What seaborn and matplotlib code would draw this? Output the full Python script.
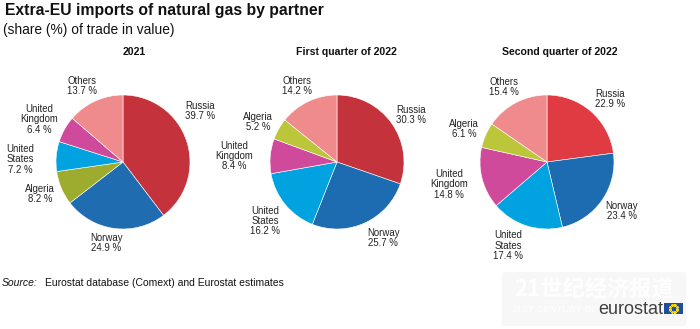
import numpy as np
import pandas as pd
import matplotlib
matplotlib.use("Agg")
import matplotlib.pyplot as plt
from matplotlib.patches import FancyBboxPatch, Rectangle
import seaborn as sns

# ---- data -------------------------------------------------------------
periods = ["2021", "First quarter of 2022", "Second quarter of 2022"]

partners_2021 = ["Russia", "Norway", "Algeria", "United\nStates", "United\nKingdom", "Others"]
shares_2021 = [39.7, 24.9, 8.2, 7.2, 6.4, 13.7]

partners_q1 = ["Russia", "Norway", "United\nStates", "United\nKingdom", "Algeria", "Others"]
shares_q1 = [30.3, 25.7, 16.2, 8.4, 5.2, 14.2]

partners_q2 = ["Russia", "Norway", "United\nStates", "United\nKingdom", "Algeria", "Others"]
shares_q2 = [22.9, 23.4, 17.4, 14.8, 6.1, 15.4]

# ---- styling ----------------------------------------------------------
sns.set_theme(style="white")
plt.rcParams["font.family"] = ["Liberation Sans", "DejaVu Sans"]

colors_2021 = {"Russia": "#c4333c", "Norway": "#1f6cb1", "Algeria": "#9dac2e",
               "United\nStates": "#00a3e0", "United\nKingdom": "#d04a9c", "Others": "#ef8b8c"}
colors_q1 = {"Russia": "#c4333c", "Norway": "#1d6bb0", "Algeria": "#bcc63a",
             "United\nStates": "#00a3e0", "United\nKingdom": "#d04a9c", "Others": "#ef8b8c"}
colors_q2 = {"Russia": "#e03a43", "Norway": "#1d6bb0", "Algeria": "#bcc63a",
             "United\nStates": "#00a3e0", "United\nKingdom": "#d04a9c", "Others": "#ef8b8c"}

# label placement, in units of the pie radius, relative to the pie centre
label_pos_2021 = {"Russia": (1.15, 0.76), "Norway": (-0.25, -1.21), "Algeria": (-1.24, -0.48),
                  "United\nStates": (-1.54, 0.04), "United\nKingdom": (-1.25, 0.64),
                  "Others": (-0.61, 1.13)}
label_pos_q1 = {"Russia": (1.10, 0.70), "Norway": (0.69, -1.13), "United\nStates": (-1.07, -0.88),
                "United\nKingdom": (-1.54, 0.09), "Algeria": (-1.18, 0.60), "Others": (-0.60, 1.13)}
label_pos_q2 = {"Russia": (0.94, 0.94), "Norway": (1.12, -0.73), "United\nStates": (-0.58, -1.25),
                "United\nKingdom": (-1.46, -0.33), "Algeria": (-1.24, 0.49), "Others": (-0.64, 1.12)}

W, H = 700, 329
fig = plt.figure(figsize=(W / 100, H / 100), dpi=100)
fig.patch.set_facecolor("white")

R = 67          # pie radius in pixels
centres = [(123, 162), (337, 162), (547, 162)]
title_x = [134, 346, 560]
AW, AH = 230, 250  # axes box in pixels

frames = [
    pd.DataFrame({"partner": partners_2021, "share": shares_2021}),
    pd.DataFrame({"partner": partners_q1, "share": shares_q1}),
    pd.DataFrame({"partner": partners_q2, "share": shares_q2}),
]
palettes = [colors_2021, colors_q1, colors_q2]
label_layouts = [label_pos_2021, label_pos_q1, label_pos_q2]

for (cx, cy), tx, df, pal, lay, title in zip(centres, title_x, frames, palettes,
                                             label_layouts, periods):
    ax = fig.add_axes([(cx - AW / 2) / W, 1 - (cy + AH / 2) / H, AW / W, AH / H])
    ax.pie(df["share"], colors=[pal[p] for p in df["partner"]], startangle=90,
           counterclock=False, radius=1.0,
           wedgeprops=dict(edgecolor="white", linewidth=0.4))
    ax.set_xlim(-AW / 2 / R, AW / 2 / R)
    ax.set_ylim(-AH / 2 / R, AH / 2 / R)
    ax.set_aspect("equal")
    ax.axis("off")
    for p, v in zip(df["partner"], df["share"]):
        lx, ly = lay[p]
        ax.text(lx, ly, f"{p}\n{v:.1f} %", ha="center", va="center",
                fontsize=6.9, color="#222222", linespacing=1.05)
    fig.text(tx / W, 1 - 52 / H, title, ha="center", va="center",
             fontsize=7.6, fontweight="bold", color="#111111")

# ---- headings and footer ---------------------------------------------
fig.text(5 / W, 1 - 11 / H, "Extra-EU imports of natural gas by partner",
         ha="left", va="center", fontsize=11.3, fontweight="bold", color="#111111")
fig.text(3 / W, 1 - 30 / H, "(share (%) of trade in value)",
         ha="left", va="center", fontsize=9.9, color="#111111")

fig.text(2 / W, 1 - 283 / H, "Source:", ha="left", va="center",
         fontsize=7.5, style="italic", color="#111111")
fig.text(45 / W, 1 - 283 / H, "Eurostat database (Comext) and Eurostat estimates",
         ha="left", va="center", fontsize=7.5, color="#111111")

# faint newspaper watermark
wm = FancyBboxPatch((506 / W, 1 - 324 / H), 176 / W, 50 / H,
                    boxstyle="round,pad=0.006", transform=fig.transFigure,
                    facecolor="#e9e9e9", edgecolor="none", alpha=0.35, zorder=1)
fig.patches.append(wm)
fig.text(594 / W, 1 - 289 / H, "21世纪经济报道", ha="center", va="center",
         fontsize=16, fontweight="bold", color="white", alpha=0.95,
         family=["Noto Sans CJK SC", "DejaVu Sans"], zorder=3)
fig.text(511 / W, 1 - 309 / H, "21ST CENTURY BU", ha="left", va="center",
         fontsize=6.8, style="italic", color="white", alpha=0.95, zorder=3)

# eurostat logo
fig.text(663 / W, 1 - 309 / H, "eurostat", ha="right", va="center",
         fontsize=13, color="#404040", zorder=4)
fig.patches.append(Rectangle((664 / W, 1 - 314 / H), 19 / W, 11 / H,
                             transform=fig.transFigure, facecolor="#1d4f9e",
                             edgecolor="none", zorder=4))
ang = np.linspace(0, 2 * np.pi, 12, endpoint=False)
fig.add_artist(plt.Line2D((673.5 + 3.6 * np.cos(ang)) / W,
                          1 - (308.5 + 3.6 * np.sin(ang)) / H,
                          transform=fig.transFigure, linestyle="none",
                          marker="*", markersize=1.4, color="#ffd700", zorder=5))

fig.savefig("out.png", dpi=100, facecolor="white")
